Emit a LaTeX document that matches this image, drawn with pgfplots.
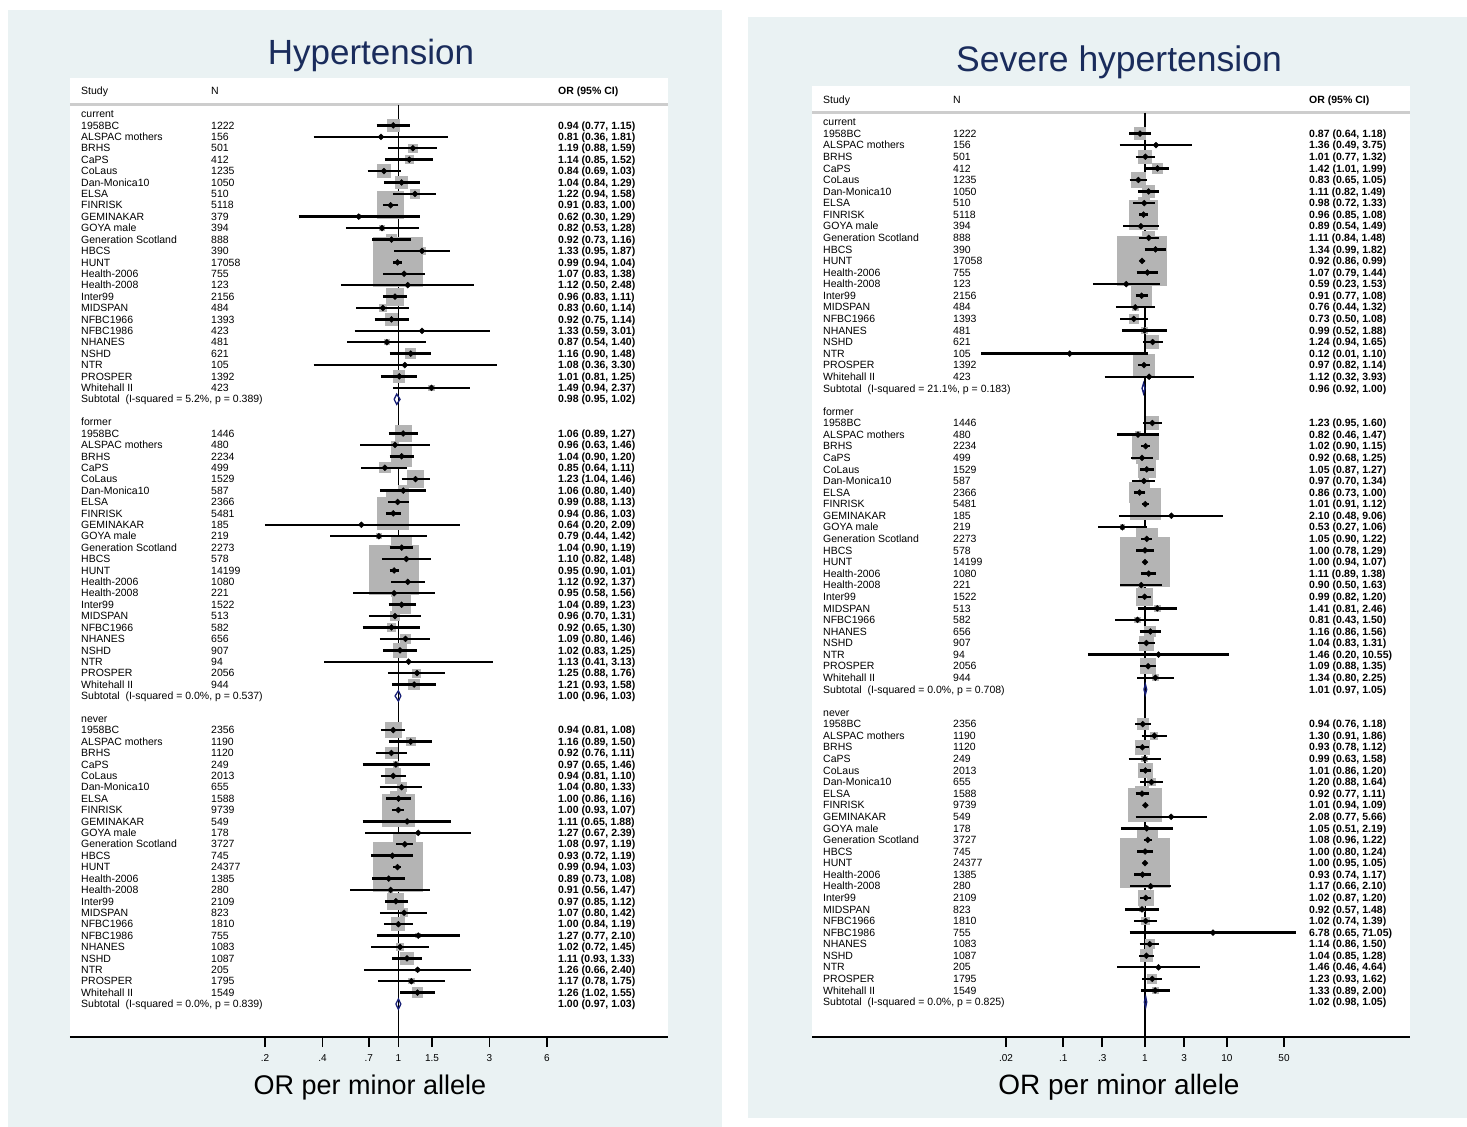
\documentclass[border=0pt]{standalone}
\usepackage{fontspec}
\setmainfont{Liberation Sans}
\usepackage{pgfplots}
\usepackage{pgfplotstable}
\pgfplotsset{compat=1.18}
\definecolor{panelbg}{RGB}{234,242,243}
\definecolor{titlecol}{RGB}{26,44,92}
\definecolor{boxgray}{RGB}{180,180,180}
\definecolor{dianavy}{RGB}{22,30,118}
\definecolor{hdrline}{RGB}{205,205,205}
\newcommand{\rowfont}{\fontsize{10.5}{12}\selectfont}

% ---------------- Hypertension ----------------
\pgfplotstableread{
row name N or lo hi
1 1958BC 1222 0.94 0.77 1.15
2 {ALSPAC mothers} 156 0.81 0.36 1.81
3 BRHS 501 1.19 0.88 1.59
4 CaPS 412 1.14 0.85 1.52
5 CoLaus 1235 0.84 0.69 1.03
6 Dan-Monica10 1050 1.04 0.84 1.29
7 ELSA 510 1.22 0.94 1.58
8 FINRISK 5118 0.91 0.83 1.00
9 GEMINAKAR 379 0.62 0.30 1.29
10 {GOYA male} 394 0.82 0.53 1.28
11 {Generation Scotland} 888 0.92 0.73 1.16
12 HBCS 390 1.33 0.95 1.87
13 HUNT 17058 0.99 0.94 1.04
14 Health-2006 755 1.07 0.83 1.38
15 Health-2008 123 1.12 0.50 2.48
16 Inter99 2156 0.96 0.83 1.11
17 MIDSPAN 484 0.83 0.60 1.14
18 NFBC1966 1393 0.92 0.75 1.14
19 NFBC1986 423 1.33 0.59 3.01
20 NHANES 481 0.87 0.54 1.40
21 NSHD 621 1.16 0.90 1.48
22 NTR 105 1.08 0.36 3.30
23 PROSPER 1392 1.01 0.81 1.25
24 {Whitehall II} 423 1.49 0.94 2.37
}\LA
\pgfplotstableread{
row name N or lo hi
28 1958BC 1446 1.06 0.89 1.27
29 {ALSPAC mothers} 480 0.96 0.63 1.46
30 BRHS 2234 1.04 0.90 1.20
31 CaPS 499 0.85 0.64 1.11
32 CoLaus 1529 1.23 1.04 1.46
33 Dan-Monica10 587 1.06 0.80 1.40
34 ELSA 2366 0.99 0.88 1.13
35 FINRISK 5481 0.94 0.86 1.03
36 GEMINAKAR 185 0.64 0.20 2.09
37 {GOYA male} 219 0.79 0.44 1.42
38 {Generation Scotland} 2273 1.04 0.90 1.19
39 HBCS 578 1.10 0.82 1.48
40 HUNT 14199 0.95 0.90 1.01
41 Health-2006 1080 1.12 0.92 1.37
42 Health-2008 221 0.95 0.58 1.56
43 Inter99 1522 1.04 0.89 1.23
44 MIDSPAN 513 0.96 0.70 1.31
45 NFBC1966 582 0.92 0.65 1.30
46 NHANES 656 1.09 0.80 1.46
47 NSHD 907 1.02 0.83 1.25
48 NTR 94 1.13 0.41 3.13
49 PROSPER 2056 1.25 0.88 1.76
50 {Whitehall II} 944 1.21 0.93 1.58
}\LB
\pgfplotstableread{
row name N or lo hi
54 1958BC 2356 0.94 0.81 1.08
55 {ALSPAC mothers} 1190 1.16 0.89 1.50
56 BRHS 1120 0.92 0.76 1.11
57 CaPS 249 0.97 0.65 1.46
58 CoLaus 2013 0.94 0.81 1.10
59 Dan-Monica10 655 1.04 0.80 1.33
60 ELSA 1588 1.00 0.86 1.16
61 FINRISK 9739 1.00 0.93 1.07
62 GEMINAKAR 549 1.11 0.65 1.88
63 {GOYA male} 178 1.27 0.67 2.39
64 {Generation Scotland} 3727 1.08 0.97 1.19
65 HBCS 745 0.93 0.72 1.19
66 HUNT 24377 0.99 0.94 1.03
67 Health-2006 1385 0.89 0.73 1.08
68 Health-2008 280 0.91 0.56 1.47
69 Inter99 2109 0.97 0.85 1.12
70 MIDSPAN 823 1.07 0.80 1.42
71 NFBC1966 1810 1.00 0.84 1.19
72 NFBC1986 755 1.27 0.77 2.10
73 NHANES 1083 1.02 0.72 1.45
74 NSHD 1087 1.11 0.93 1.33
75 NTR 205 1.26 0.66 2.40
76 PROSPER 1795 1.17 0.78 1.75
77 {Whitehall II} 1549 1.26 1.02 1.55
}\LC

% ---------------- Severe hypertension ----------------
\pgfplotstableread{
row name N or lo hi
1 1958BC 1222 0.87 0.64 1.18
2 {ALSPAC mothers} 156 1.36 0.49 3.75
3 BRHS 501 1.01 0.77 1.32
4 CaPS 412 1.42 1.01 1.99
5 CoLaus 1235 0.83 0.65 1.05
6 Dan-Monica10 1050 1.11 0.82 1.49
7 ELSA 510 0.98 0.72 1.33
8 FINRISK 5118 0.96 0.85 1.08
9 {GOYA male} 394 0.89 0.54 1.49
10 {Generation Scotland} 888 1.11 0.84 1.48
11 HBCS 390 1.34 0.99 1.82
12 HUNT 17058 0.92 0.86 0.99
13 Health-2006 755 1.07 0.79 1.44
14 Health-2008 123 0.59 0.23 1.53
15 Inter99 2156 0.91 0.77 1.08
16 MIDSPAN 484 0.76 0.44 1.32
17 NFBC1966 1393 0.73 0.50 1.08
18 NHANES 481 0.99 0.52 1.88
19 NSHD 621 1.24 0.94 1.65
20 NTR 105 0.12 0.01 1.10
21 PROSPER 1392 0.97 0.82 1.14
22 {Whitehall II} 423 1.12 0.32 3.93
}\RA
\pgfplotstableread{
row name N or lo hi
26 1958BC 1446 1.23 0.95 1.60
27 {ALSPAC mothers} 480 0.82 0.46 1.47
28 BRHS 2234 1.02 0.90 1.15
29 CaPS 499 0.92 0.68 1.25
30 CoLaus 1529 1.05 0.87 1.27
31 Dan-Monica10 587 0.97 0.70 1.34
32 ELSA 2366 0.86 0.73 1.00
33 FINRISK 5481 1.01 0.91 1.12
34 GEMINAKAR 185 2.10 0.48 9.06
35 {GOYA male} 219 0.53 0.27 1.06
36 {Generation Scotland} 2273 1.05 0.90 1.22
37 HBCS 578 1.00 0.78 1.29
38 HUNT 14199 1.00 0.94 1.07
39 Health-2006 1080 1.11 0.89 1.38
40 Health-2008 221 0.90 0.50 1.63
41 Inter99 1522 0.99 0.82 1.20
42 MIDSPAN 513 1.41 0.81 2.46
43 NFBC1966 582 0.81 0.43 1.50
44 NHANES 656 1.16 0.86 1.56
45 NSHD 907 1.04 0.83 1.31
46 NTR 94 1.46 0.20 10.55
47 PROSPER 2056 1.09 0.88 1.35
48 {Whitehall II} 944 1.34 0.80 2.25
}\RB
\pgfplotstableread{
row name N or lo hi
52 1958BC 2356 0.94 0.76 1.18
53 {ALSPAC mothers} 1190 1.30 0.91 1.86
54 BRHS 1120 0.93 0.78 1.12
55 CaPS 249 0.99 0.63 1.58
56 CoLaus 2013 1.01 0.86 1.20
57 Dan-Monica10 655 1.20 0.88 1.64
58 ELSA 1588 0.92 0.77 1.11
59 FINRISK 9739 1.01 0.94 1.09
60 GEMINAKAR 549 2.08 0.77 5.66
61 {GOYA male} 178 1.05 0.51 2.19
62 {Generation Scotland} 3727 1.08 0.96 1.22
63 HBCS 745 1.00 0.80 1.24
64 HUNT 24377 1.00 0.95 1.05
65 Health-2006 1385 0.93 0.74 1.17
66 Health-2008 280 1.17 0.66 2.10
67 Inter99 2109 1.02 0.87 1.20
68 MIDSPAN 823 0.92 0.57 1.48
69 NFBC1966 1810 1.02 0.74 1.39
70 NFBC1986 755 6.78 0.65 71.05
71 NHANES 1083 1.14 0.86 1.50
72 NSHD 1087 1.04 0.85 1.28
73 NTR 205 1.46 0.46 4.64
74 PROSPER 1795 1.23 0.93 1.62
75 {Whitehall II} 1549 1.33 0.89 2.00
}\RC

\pgfplotsset{
  txt/.style={only marks, mark=*, mark size=0pt, draw=none, fill=none,
    nodes near coords,
    nodes near coords style={anchor=base west, inner sep=0pt, font=\rowfont, text=black, yshift=-3.7pt}},
}
\tikzset{lbl/.style={anchor=base west, inner sep=0pt, font=\rowfont, text=black, yshift=-3.7pt}}
\newcommand{\pn}[1]{\pgfmathprintnumber[fixed,fixed zerofill,precision=2,assume math mode=true]{#1}}

% #1 table, #2 box constant, #3 name shift, #4 N shift, #5 OR shift, #6 pt per log unit
\newcommand{\grp}[6]{%
 \addplot[scatter, only marks, mark=square*,
   scatter/use mapped color={draw=boxgray, fill=boxgray},
   mark options={line width=0pt},
   visualization depends on={#2/(ln(\thisrow{hi})-ln(\thisrow{lo}))\as\bsz},
   scatter/@pre marker code/.append style={/tikz/mark size=\bsz}]
   table[x=or, y expr=-\thisrow{row}] {#1};
 % confidence intervals: a horizontal segment from lo to hi around each estimate
 \addplot[scatter, only marks, mark=*, mark size=0pt, mark options={draw=none, fill=none},
   visualization depends on={#6*(ln(\thisrow{or})-ln(\thisrow{lo}))\as\cL},
   visualization depends on={#6*(ln(\thisrow{hi})-ln(\thisrow{or}))\as\cR},
   scatter/@pre marker code/.code={\draw[black, line width=2.4pt, line cap=butt] (-\cL pt,0pt) -- (\cR pt,0pt);},
   scatter/@post marker code/.code={}]
   table[x=or, y expr=-\thisrow{row}] {#1};
 \addplot[black, only marks, mark=square*, mark size=2.1pt, mark options={rotate=45, fill=black, line width=0.4pt}]
   table[x=or, y expr=-\thisrow{row}] {#1};
 \addplot[txt, point meta=explicit symbolic, nodes near coords style={xshift=#3}]
   table[x expr=1, y expr=-\thisrow{row}, meta=name] {#1};
 \addplot[txt, point meta=explicit symbolic, nodes near coords style={xshift=#4}]
   table[x expr=1, y expr=-\thisrow{row}, meta=N] {#1};
 \addplot[txt, visualization depends on={\thisrow{or}\as\vOR},
   visualization depends on={\thisrow{lo}\as\vLO},
   visualization depends on={\thisrow{hi}\as\vHI},
   nodes near coords={\bfseries\pn{\vOR} (\pn{\vLO}, \pn{\vHI})}, nodes near coords style={xshift=#5}]
   table[x expr=1, y expr=-\thisrow{row}] {#1};
}

\begin{document}
\begin{tikzpicture}
\begin{scope}[x=1pt,y=-1pt]
\fill[panelbg] (8,10) rectangle (722,1127);
\fill[panelbg] (748,17) rectangle (1467,1118);
\node[font=\fontsize{35}{40}\selectfont, text=titlecol] at (371,55) {Hypertension};
\node[font=\fontsize{35.5}{40}\selectfont, text=titlecol] at (1119,62) {Severe hypertension};
\node[font=\fontsize{27}{30}\selectfont] at (370,1088) {OR per minor allele};
\node[font=\fontsize{28}{30}\selectfont] at (1119,1087) {OR per minor allele};
\end{scope}

% ---------- left panel ----------
\begin{axis}[xmode=log, scale only axis, width=598pt, height=959pt,
  at={(70pt,-78pt)}, anchor=north west,
  axis background/.style={fill=white},
  axis x line=bottom, axis y line=none,
  x axis line style={-, line width=1.8pt, black},
  tick align=outside, major tick length=10pt,
  xtick style={line width=1.8pt, black},
  minor xtick={}, ytick=\empty,
  xticklabel style={font=\fontsize{10}{12}\selectfont, yshift=-4pt, text=black},
  clip=false,
  xmin=0.019045, xmax=25.836, ymin=-80.89, ymax=3.155,
  xtick={0.2,0.4,0.7,1,1.5,3,6}, xticklabels={.2,.4,.7,1,1.5,3,6}]
 \draw[hdrline, line width=3pt] ({rel axis cs:0,0}|-{axis cs:1,0.83}) -- ({rel axis cs:1,0}|-{axis cs:1,0.83});
 \addplot[black, line width=1.5pt] coordinates {(1,0.83) (1,-80.89)};
 \grp{\LA}{2.477}{-317.4pt}{-187.4pt}{159.6pt}{82.911}
 \grp{\LB}{2.826}{-317.4pt}{-187.4pt}{159.6pt}{82.911}
 \grp{\LC}{2.240}{-317.4pt}{-187.4pt}{159.6pt}{82.911}
 \addplot[dianavy, line width=1.3pt, line cap=round] coordinates {(0.95,-25) (0.98,-24.55) (1.02,-25) (0.98,-25.45) (0.95,-25)};
 \addplot[dianavy, line width=1.3pt, line cap=round] coordinates {(0.96,-51) (1.00,-50.55) (1.03,-51) (1.00,-51.45) (0.96,-51)};
 \addplot[dianavy, line width=1.3pt, line cap=round] coordinates {(0.97,-78) (1.00,-77.55) (1.03,-78) (1.00,-78.45) (0.97,-78)};
 \node[lbl, xshift=-317.4pt] at (axis cs:1,2.06) {Study};
 \node[lbl, xshift=-187.4pt] at (axis cs:1,2.06) {N};
 \node[lbl, xshift=159.6pt] at (axis cs:1,2.06) {\bfseries OR (95\% CI)};
 \node[lbl, xshift=-317.4pt] at (axis cs:1,0) {current};
 \node[lbl, xshift=-317.4pt] at (axis cs:1,-27) {former};
 \node[lbl, xshift=-317.4pt] at (axis cs:1,-53) {never};
 \node[lbl, xshift=-317.4pt] at (axis cs:1,-25) {Subtotal\ \ (I-squared = 5.2\%, p = 0.389)};
 \node[lbl, xshift=-317.4pt] at (axis cs:1,-51) {Subtotal\ \ (I-squared = 0.0\%, p = 0.537)};
 \node[lbl, xshift=-317.4pt] at (axis cs:1,-78) {Subtotal\ \ (I-squared = 0.0\%, p = 0.839)};
 \node[lbl, xshift=159.6pt] at (axis cs:1,-25) {\bfseries 0.98 (0.95, 1.02)};
 \node[lbl, xshift=159.6pt] at (axis cs:1,-51) {\bfseries 1.00 (0.96, 1.03)};
 \node[lbl, xshift=159.6pt] at (axis cs:1,-78) {\bfseries 1.00 (0.97, 1.03)};
\end{axis}

% ---------- right panel ----------
\begin{axis}[xmode=log, scale only axis, width=598pt, height=951pt,
  at={(812pt,-86pt)}, anchor=north west,
  axis background/.style={fill=white},
  axis x line=bottom, axis y line=none,
  x axis line style={-, line width=1.8pt, black},
  tick align=outside, major tick length=10pt,
  xtick style={line width=1.8pt, black},
  minor xtick={}, ytick=\empty,
  xticklabel style={font=\fontsize{10}{12}\selectfont, yshift=-4pt, text=black},
  clip=false,
  xmin=0.00008504, xmax=1734.6, ymin=-79.02, ymax=3.109,
  xtick={0.02,0.1,0.3,1,3,10,50}, xticklabels={.02,.1,.3,1,3,10,50}]
 \draw[hdrline, line width=3pt] ({rel axis cs:0,0}|-{axis cs:1,0.82}) -- ({rel axis cs:1,0}|-{axis cs:1,0.82});
 \addplot[black, line width=1.5pt] coordinates {(1,0.82) (1,-79.02)};
 \grp{\RA}{3.449}{-322pt}{-192pt}{164pt}{35.530}
 \grp{\RB}{3.174}{-322pt}{-192pt}{164pt}{35.530}
 \grp{\RC}{2.452}{-322pt}{-192pt}{164pt}{35.530}
 \addplot[dianavy, line width=1.3pt, line cap=round] coordinates {(0.92,-23) (0.96,-22.55) (1.00,-23) (0.96,-23.45) (0.92,-23)};
 \addplot[dianavy, line width=1.3pt, line cap=round] coordinates {(0.97,-49) (1.01,-48.55) (1.05,-49) (1.01,-49.45) (0.97,-49)};
 \addplot[dianavy, line width=1.3pt, line cap=round] coordinates {(0.98,-76) (1.02,-75.55) (1.05,-76) (1.02,-76.45) (0.98,-76)};
 \node[lbl, xshift=-322pt] at (axis cs:1,1.94) {Study};
 \node[lbl, xshift=-192pt] at (axis cs:1,1.94) {N};
 \node[lbl, xshift=164pt] at (axis cs:1,1.94) {\bfseries OR (95\% CI)};
 \node[lbl, xshift=-322pt] at (axis cs:1,0) {current};
 \node[lbl, xshift=-322pt] at (axis cs:1,-25) {former};
 \node[lbl, xshift=-322pt] at (axis cs:1,-51) {never};
 \node[lbl, xshift=-322pt] at (axis cs:1,-23) {Subtotal\ \ (I-squared = 21.1\%, p = 0.183)};
 \node[lbl, xshift=-322pt] at (axis cs:1,-49) {Subtotal\ \ (I-squared = 0.0\%, p = 0.708)};
 \node[lbl, xshift=-322pt] at (axis cs:1,-76) {Subtotal\ \ (I-squared = 0.0\%, p = 0.825)};
 \node[lbl, xshift=164pt] at (axis cs:1,-23) {\bfseries 0.96 (0.92, 1.00)};
 \node[lbl, xshift=164pt] at (axis cs:1,-49) {\bfseries 1.01 (0.97, 1.05)};
 \node[lbl, xshift=164pt] at (axis cs:1,-76) {\bfseries 1.02 (0.98, 1.05)};
\end{axis}
\pgfresetboundingbox
\useasboundingbox (0pt,0pt) rectangle (1467pt,-1127pt);
\end{tikzpicture}
\end{document}
